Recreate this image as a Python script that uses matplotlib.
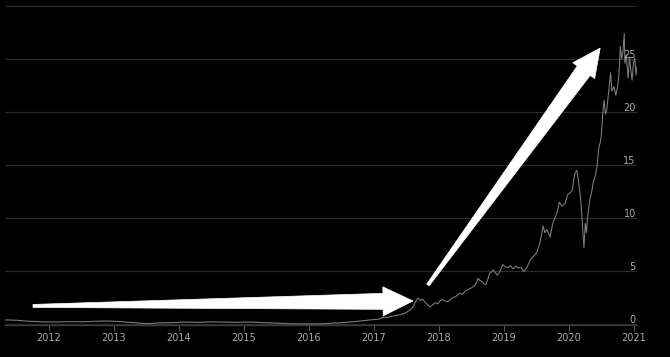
import matplotlib
matplotlib.use("Agg")
import matplotlib.pyplot as plt
import numpy as np
from matplotlib.patches import Polygon

# ---- data (decimal year, value) ----
years = [2011.33, 2011.5, 2011.7, 2011.9, 2012.1, 2012.3, 2012.5, 2012.7, 2012.9,
         2013.1, 2013.3, 2013.5, 2013.7, 2013.9, 2014.1, 2014.3, 2014.5, 2014.7, 2014.9,
         2015.1, 2015.3, 2015.5, 2015.7, 2015.9, 2016.1, 2016.3, 2016.5, 2016.7, 2016.9,
         2017.0, 2017.08, 2017.14, 2017.2, 2017.3, 2017.38, 2017.45, 2017.5, 2017.55,
         2017.6, 2017.63, 2017.66, 2017.68, 2017.71, 2017.74, 2017.78, 2017.82, 2017.86,
         2017.9, 2017.94, 2017.98, 2018.02, 2018.05, 2018.1, 2018.14, 2018.18, 2018.22,
         2018.26, 2018.32, 2018.36, 2018.4, 2018.43, 2018.47, 2018.52, 2018.56, 2018.6,
         2018.63, 2018.66, 2018.69, 2018.72, 2018.75, 2018.78, 2018.81, 2018.83, 2018.87,
         2018.9, 2018.94, 2018.98, 2019.02, 2019.06, 2019.1, 2019.14, 2019.18, 2019.22,
         2019.26, 2019.3, 2019.35, 2019.4, 2019.45, 2019.5, 2019.55, 2019.58, 2019.6,
         2019.63, 2019.66, 2019.71, 2019.75, 2019.79, 2019.82, 2019.85, 2019.89, 2019.94,
         2019.98, 2020.02, 2020.05, 2020.07, 2020.09, 2020.12, 2020.15, 2020.18, 2020.2,
         2020.22, 2020.23, 2020.25, 2020.27, 2020.28, 2020.32, 2020.35, 2020.37, 2020.4,
         2020.43, 2020.46, 2020.48, 2020.5, 2020.52, 2020.54, 2020.56, 2020.58, 2020.61,
         2020.64, 2020.66, 2020.69, 2020.72, 2020.75, 2020.77, 2020.79, 2020.81, 2020.83,
         2020.85, 2020.86, 2020.88, 2020.91, 2020.93, 2020.95, 2020.97, 2020.99, 2021.01,
         2021.03, 2021.046]
values = [0.38, 0.35, 0.25, 0.2, 0.18, 0.22, 0.2, 0.25, 0.28,
          0.22, 0.12, 0.02, 0.1, 0.12, 0.18, 0.15, 0.2, 0.18, 0.15,
          0.18, 0.12, 0.08, 0.02, 0.0, 0.0, 0.05, 0.12, 0.22, 0.35,
          0.42, 0.45, 0.65, 0.6, 0.75, 0.85, 0.95, 1.1, 1.3,
          1.6, 2.0, 2.3, 2.45, 2.2, 2.35, 2.1, 1.85, 1.6,
          1.8, 2.0, 1.9, 2.2, 2.3, 2.15, 2.1, 2.35, 2.5,
          2.6, 2.9, 2.8, 3.1, 3.2, 3.3, 3.5, 3.7, 4.3,
          4.1, 4.0, 3.8, 3.7, 4.2, 4.8, 4.9, 5.1, 4.8,
          4.6, 5.0, 5.6, 5.4, 5.3, 5.5, 5.2, 5.45, 5.3,
          5.35, 4.95, 5.3, 6.0, 6.35, 6.7, 7.6, 8.5, 9.25,
          8.6, 8.9, 8.2, 9.5, 10.1, 10.6, 11.5, 11.1, 11.4,
          12.2, 12.4, 12.6, 13.5, 14.2, 14.5, 13.3, 11.7, 10.0,
          8.0, 7.2, 9.5, 8.6, 9.8, 11.7, 12.5, 13.3, 13.9,
          14.8, 16.7, 17.1, 18.0, 20.0, 21.1, 19.8, 20.2, 21.9,
          23.7, 22.0, 22.4, 21.6, 22.5, 23.7, 26.2, 25.0, 25.7,
          27.4, 24.6, 25.4, 23.2, 25.2, 24.0, 23.0, 24.5, 25.1,
          23.5, 24.3]

x_ticks = [2012, 2013, 2014, 2015, 2016, 2017, 2018, 2019, 2020, 2021]
y_ticks = [0, 5, 10, 15, 20, 25, 30]
y_labels = ["0", "5", "10", "15", "20", "25", ""]

# arrows: (tail, tip) in data coordinates
arrow1 = ((2011.754, 1.70), (2017.60, 2.17))
arrow2 = ((2017.83, 3.68), (2020.48, 26.04))

BG = "#000000"
fig = plt.figure(figsize=(6.7, 3.57), dpi=100, facecolor=BG)
ax = fig.add_axes([5 / 670, 1 - 325 / 357, 632 / 670, 320 / 357])
ax.set_facecolor(BG)

ax.plot(years, values, color="#808080", lw=0.75, zorder=3)

ax.set_xlim(2011.323, 2021.046)
ax.set_ylim(-0.1, 30.1)

ax.set_xticks(x_ticks)
ax.set_xticklabels([str(t) for t in x_ticks])
ax.set_yticks(y_ticks)
ax.yaxis.grid(True, color="#2b2b2b", lw=0.9)
ax.tick_params(axis="y", left=False, labelleft=False)
ax.tick_params(axis="x", colors="#555555", labelcolor="#aaaaaa", labelsize=7,
               length=4, width=0.8, pad=2)
for s in ["top", "right", "left"]:
    ax.spines[s].set_visible(False)
ax.spines["bottom"].set_color("#3a3a3a")
ax.spines["bottom"].set_linewidth(1.0)

for v, lab in zip(y_ticks, y_labels):
    if lab:
        ax.text(0.998, v + 0.12, lab, transform=ax.get_yaxis_transform(),
                ha="right", va="baseline", color="#aaaaaa", fontsize=7, zorder=4)


def draw_arrow(tail, tip, head_len=30, head_hw=14.5, tail_hw=1.5, base_hw=8):
    T = ax.transData.transform(tail)
    P = ax.transData.transform(tip)
    d = P - T
    u = d / np.hypot(*d)
    n = np.array([-u[1], u[0]])
    B = P - u * head_len
    pts = [T + n * tail_hw, B + n * base_hw, B + n * head_hw, P,
           B - n * head_hw, B - n * base_hw, T - n * tail_hw]
    pts_data = ax.transData.inverted().transform(np.array(pts))
    ax.add_patch(Polygon(pts_data, closed=True, facecolor="white",
                         edgecolor="white", lw=0.5, zorder=5, clip_on=False))


draw_arrow(*arrow1)
draw_arrow(*arrow2, head_len=28, head_hw=13.5)

fig.savefig("out.png", dpi=100, facecolor=BG)
